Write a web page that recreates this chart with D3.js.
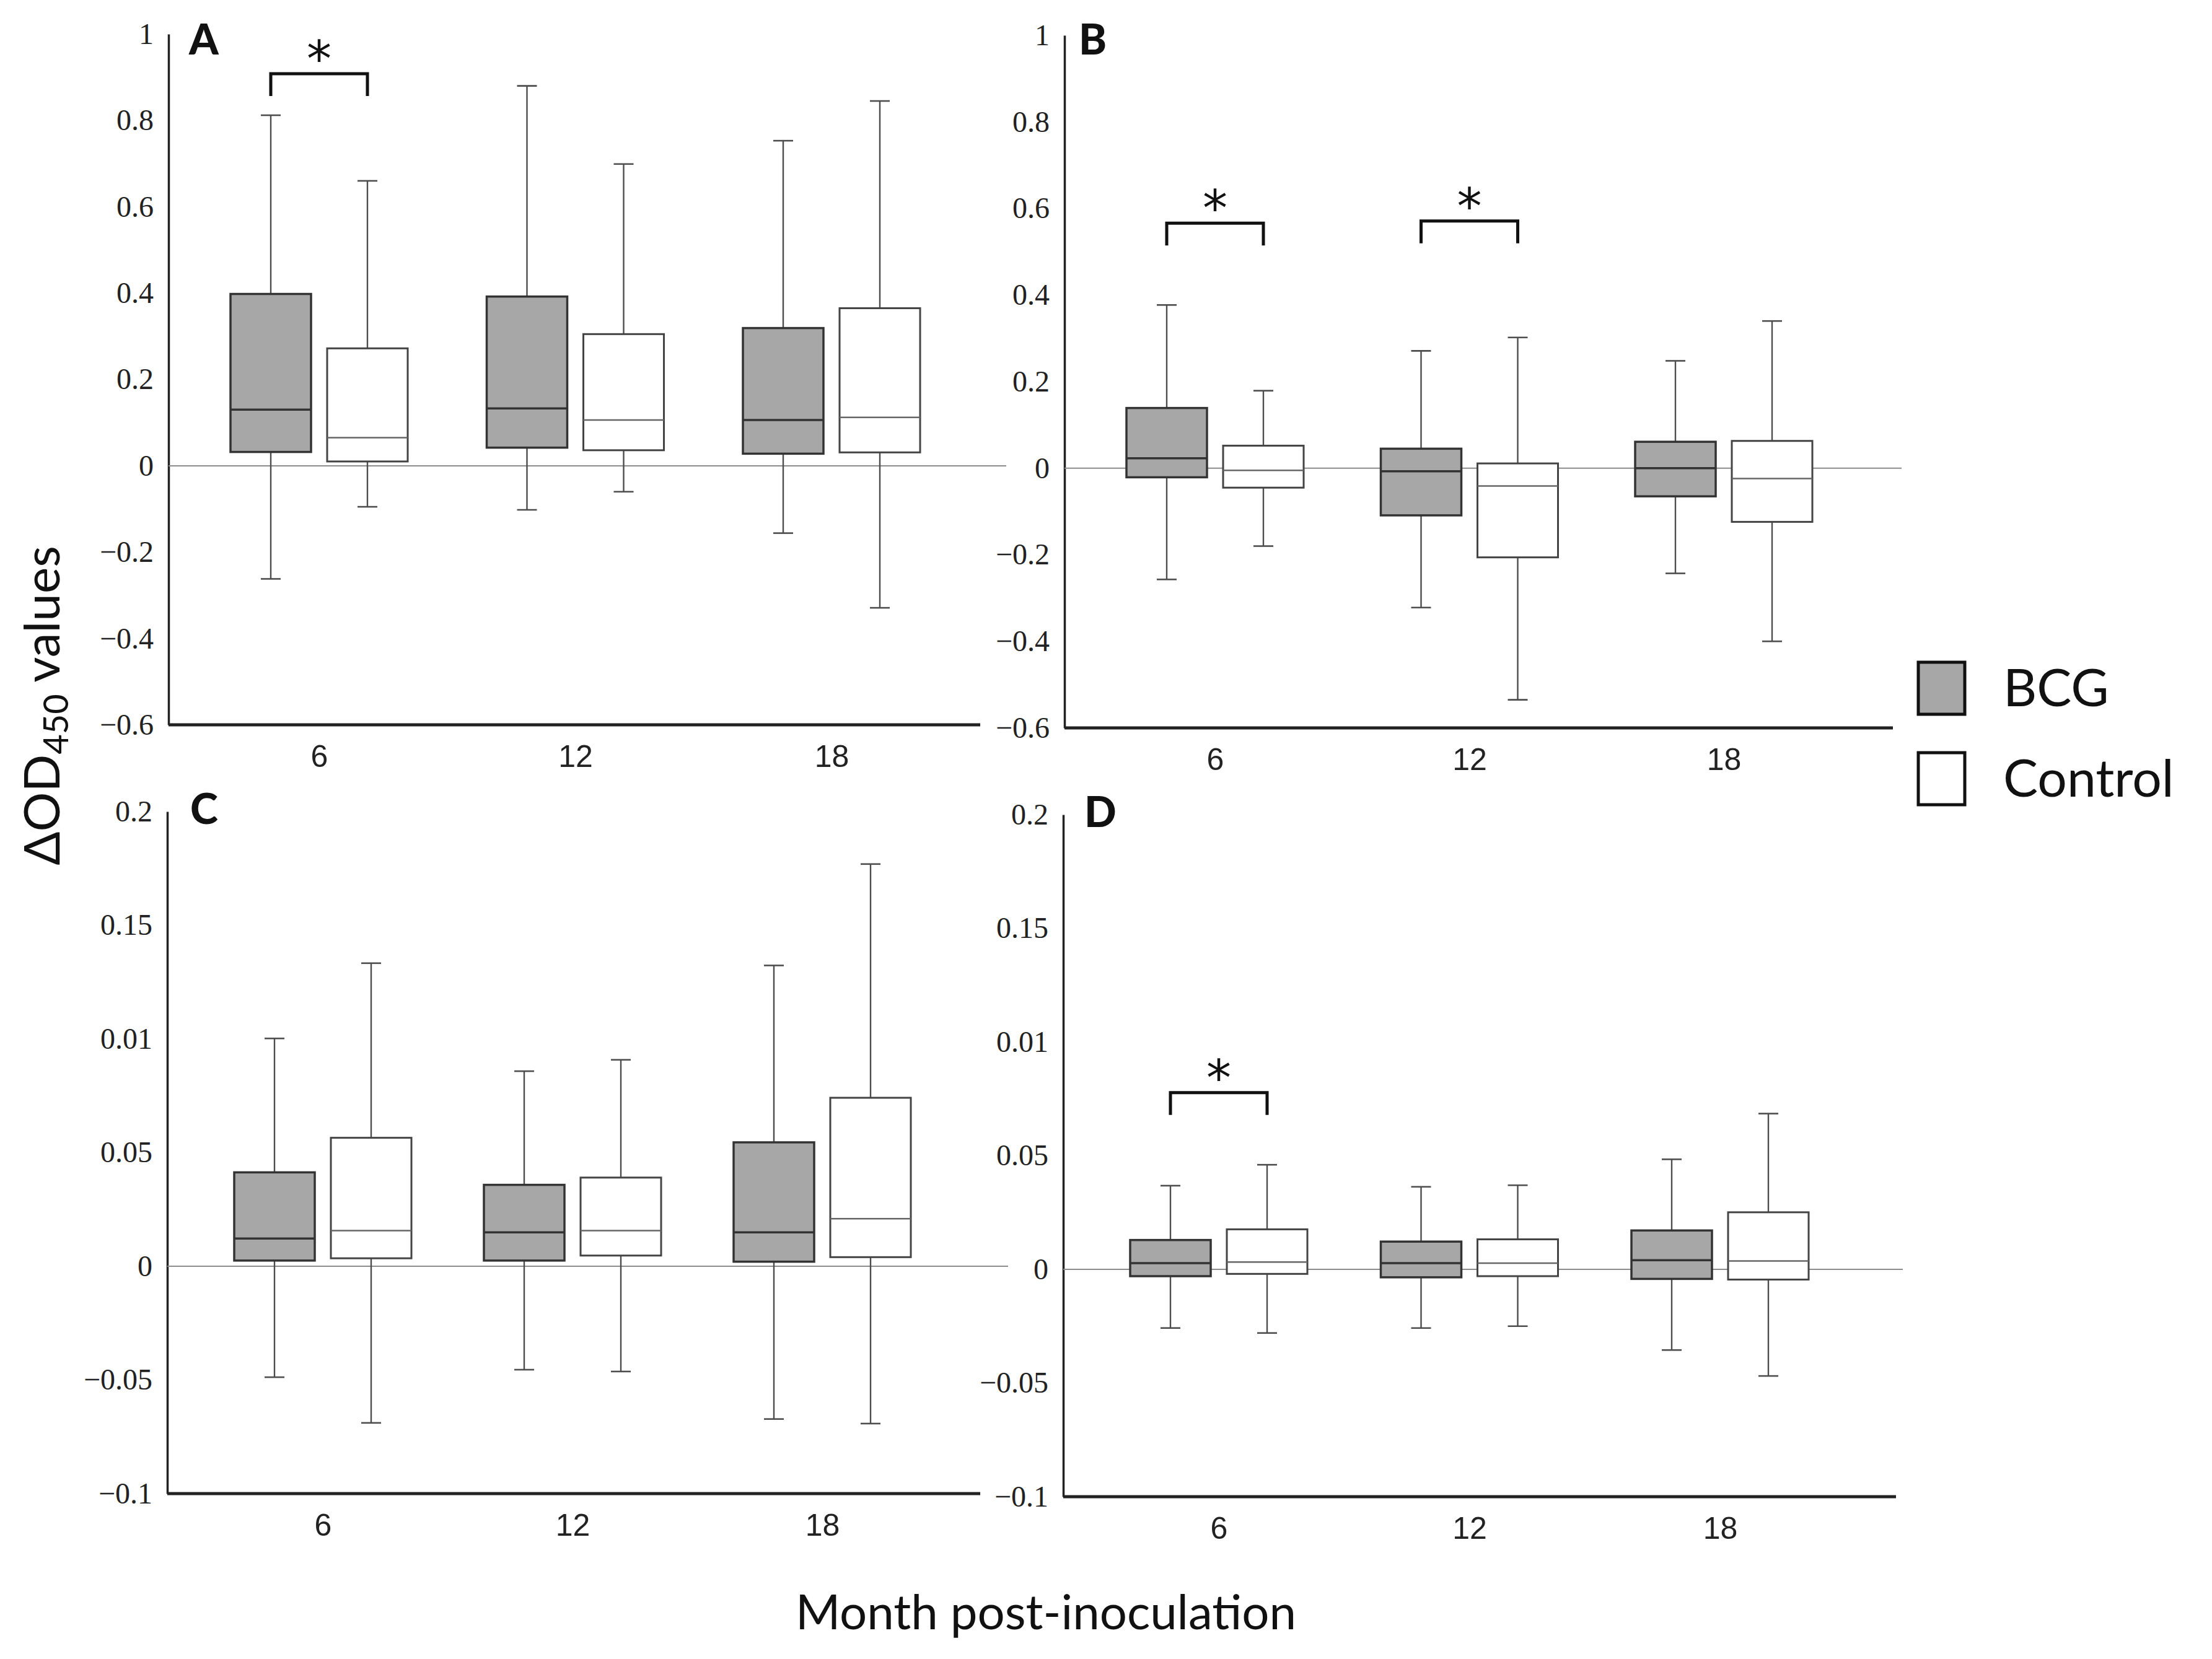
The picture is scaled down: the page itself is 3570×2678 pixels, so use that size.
<!DOCTYPE html>
<html>
<head>
<meta charset="utf-8">
<script src="https://cdn.jsdelivr.net/npm/d3@7"></script>
<style>
    body { margin: 0; background: #fff; }
    svg { display: block; }
</style>
</head>
<body>
<div id="chart"></div>
<script>
// month groups and series
var months = ["6", "12", "18"];
var groups = ["BCG", "Control"];

// box stats per month: [whisker low, Q1, median, Q3, whisker high]
var boxA_BCG = [[-0.262, 0.032, 0.130, 0.398, 0.812], [-0.102, 0.042, 0.133, 0.392, 0.880], [-0.156, 0.028, 0.106, 0.319, 0.753]];
var boxA_Control = [[-0.095, 0.010, 0.065, 0.272, 0.660], [-0.060, 0.036, 0.106, 0.305, 0.699], [-0.329, 0.031, 0.112, 0.365, 0.845]];
var boxB_BCG = [[-0.257, -0.021, 0.023, 0.139, 0.377], [-0.322, -0.109, -0.007, 0.045, 0.271], [-0.243, -0.065, 0.000, 0.061, 0.248]];
var boxB_Control = [[-0.180, -0.045, -0.005, 0.052, 0.179], [-0.535, -0.206, -0.041, 0.011, 0.302], [-0.400, -0.124, -0.024, 0.063, 0.340]];
var boxC_BCG = [[-0.0488, 0.0025, 0.0122, 0.0413, 0.1002], [-0.0455, 0.0025, 0.0149, 0.0358, 0.0858], [-0.0672, 0.0020, 0.0149, 0.0545, 0.1323]];
var boxC_Control = [[-0.0689, 0.0035, 0.0157, 0.0565, 0.1333], [-0.0463, 0.0047, 0.0157, 0.0390, 0.0908], [-0.0692, 0.0040, 0.0209, 0.0741, 0.1769]];
var boxD_BCG = [[-0.0258, -0.0030, 0.0027, 0.0129, 0.0368], [-0.0258, -0.0035, 0.0027, 0.0122, 0.0363], [-0.0355, -0.0042, 0.0040, 0.0171, 0.0484]];
var boxD_Control = [[-0.0280, -0.0020, 0.0032, 0.0176, 0.0460], [-0.0250, -0.0030, 0.0027, 0.0132, 0.0370], [-0.0469, -0.0045, 0.0037, 0.0251, 0.0685]];

// y ticks (labels as printed in the figure)
var ticksAB = [-0.6, -0.4, -0.2, 0, 0.2, 0.4, 0.6, 0.8, 1];
var tickLabelsAB = ["\u22120.6", "\u22120.4", "\u22120.2", "0", "0.2", "0.4", "0.6", "0.8", "1"];
var ticksCD = [-0.1, -0.05, 0, 0.05, 0.1, 0.15, 0.2];
var tickLabelsCD = ["\u22120.1", "\u22120.05", "0", "0.05", "0.01", "0.15", "0.2"];

// significance brackets: month and height
var sigA = [{ month: "6", y: 0.908 }];
var sigB = [{ month: "6", y: 0.566 }, { month: "12", y: 0.571 }];
var sigC = [];
var sigD = [{ month: "6", y: 0.0777 }];

var W = 3570, H = 2678;
var svg = d3.select("#chart").append("svg").attr("width", W).attr("height", H);

var panels = [
    { name: "A", bcg: boxA_BCG, ctl: boxA_Control, sig: sigA, dom: [-0.6, 1], ticks: ticksAB, labels: tickLabelsAB,
      x0: 272, x1: 1582, zeroEnd: 1624, c: [515, 1342], yr: [1170, 55], lx: 305, ly: 88 },
    { name: "B", bcg: boxB_BCG, ctl: boxB_Control, sig: sigB, dom: [-0.6, 1], ticks: ticksAB, labels: tickLabelsAB,
      x0: 1718, x1: 3055, zeroEnd: 3069, c: [1961, 2782], yr: [1175, 57], lx: 1741, ly: 88 },
    { name: "C", bcg: boxC_BCG, ctl: boxC_Control, sig: sigC, dom: [-0.1, 0.2], ticks: ticksCD, labels: tickLabelsCD,
      x0: 270, x1: 1582, zeroEnd: 1627, c: [521, 1327], yr: [2411, 1310], lx: 307, ly: 1330 },
    { name: "D", bcg: boxD_BCG, ctl: boxD_Control, sig: sigD, dom: [-0.1, 0.2], ticks: ticksCD, labels: tickLabelsCD,
      x0: 1716, x1: 3060, zeroEnd: 3071, c: [1967, 2776], yr: [2416, 1315], lx: 1750, ly: 1335 }
];

var boxW = 130, off = 78, capW = 32;

panels.forEach(function(p) {
    var g = svg.append("g");
    var x = d3.scalePoint().domain(months).range(p.c);
    var y = d3.scaleLinear().domain(p.dom).range(p.yr);

    // y axis without tick marks
    var yAxis = g.append("g")
        .attr("transform", "translate(" + p.x0 + ",0)")
        .attr("font-family", "'Liberation Serif', 'DejaVu Serif', serif")
        .call(d3.axisLeft(y).tickValues(p.ticks).tickSize(0).tickPadding(24)
            .tickFormat(function(d, i) { return p.labels[i]; }));
    yAxis.attr("font-family", "'Liberation Serif', 'DejaVu Serif', serif");
    yAxis.select(".domain").attr("stroke", "#222").attr("stroke-width", 3.5);
    yAxis.selectAll("text").style("font-family", "'Liberation Serif', 'DejaVu Serif', serif")
        .attr("font-size", 48).attr("fill", "#222");

    // x axis line and month labels
    g.append("line").attr("x1", p.x0).attr("x2", p.x1).attr("y1", y(p.dom[0])).attr("y2", y(p.dom[0]))
        .attr("stroke", "#222").attr("stroke-width", 5);
    var xAxis = g.append("g")
        .attr("transform", "translate(0," + y(p.dom[0]) + ")")
        .call(d3.axisBottom(x).tickSize(0).tickPadding(32));
    xAxis.select(".domain").remove();
    xAxis.selectAll("text")
        .style("font-family", "'Liberation Sans Narrow', 'Liberation Sans', sans-serif")
        .style("font-stretch", "condensed")
        .attr("font-size", 50).attr("fill", "#222");

    // zero reference line
    g.append("line").attr("x1", p.x0).attr("x2", p.zeroEnd).attr("y1", y(0)).attr("y2", y(0))
        .attr("stroke", "#8c8c8c").attr("stroke-width", 2);

    [["BCG", p.bcg, -off], ["Control", p.ctl, off]].forEach(function(s) {
        var isBcg = s[0] == "BCG";
        var bx = g.selectAll(".box-" + s[0]).data(s[1]).enter().append("g");
        var cx = function(d, i) { return x(months[i]) + s[2]; };

        // whiskers
        bx.append("line").attr("x1", cx).attr("x2", cx)
            .attr("y1", function(d) { return y(d[0]); }).attr("y2", function(d) { return y(d[1]); })
            .attr("stroke", "#4d4d4d").attr("stroke-width", 2.4);
        bx.append("line").attr("x1", cx).attr("x2", cx)
            .attr("y1", function(d) { return y(d[3]); }).attr("y2", function(d) { return y(d[4]); })
            .attr("stroke", "#4d4d4d").attr("stroke-width", 2.4);
        [0, 4].forEach(function(k) {
            bx.append("line")
                .attr("x1", function(d, i) { return cx(d, i) - capW / 2; })
                .attr("x2", function(d, i) { return cx(d, i) + capW / 2; })
                .attr("y1", function(d) { return y(d[k]); }).attr("y2", function(d) { return y(d[k]); })
                .attr("stroke", "#4d4d4d").attr("stroke-width", 2.6);
        });

        // box
        bx.append("rect")
            .attr("x", function(d, i) { return cx(d, i) - boxW / 2; })
            .attr("y", function(d) { return y(d[3]); })
            .attr("width", boxW)
            .attr("height", function(d) { return y(d[1]) - y(d[3]); })
            .attr("fill", isBcg ? "#a7a7a7" : "#fff")
            .attr("stroke", isBcg ? "#333" : "#444")
            .attr("stroke-width", isBcg ? 3.5 : 3);

        // median
        bx.append("line")
            .attr("x1", function(d, i) { return cx(d, i) - boxW / 2; })
            .attr("x2", function(d, i) { return cx(d, i) + boxW / 2; })
            .attr("y1", function(d) { return y(d[2]); }).attr("y2", function(d) { return y(d[2]); })
            .attr("stroke", isBcg ? "#333" : "#666").attr("stroke-width", isBcg ? 3.5 : 2.5);
    });

    // significance brackets
    p.sig.forEach(function(s) {
        var xa = x(s.month) - off, xb = x(s.month) + off, yy = y(s.y);
        g.append("path")
            .attr("d", "M" + xa + "," + (yy + 36) + "V" + yy + "H" + xb + "V" + (yy + 36))
            .attr("fill", "none").attr("stroke", "#111").attr("stroke-width", 5);
        g.append("text").attr("x", (xa + xb) / 2).attr("y", yy + 4)
            .attr("text-anchor", "middle").attr("font-family", "'DejaVu Sans', sans-serif")
            .attr("font-size", 80).attr("fill", "#111").text("*");
    });

    // panel letter
    g.append("text").attr("x", p.lx).attr("y", p.ly)
        .attr("font-family", "Lato, 'Open Sans', sans-serif").attr("font-weight", 900)
        .attr("font-size", 68).attr("fill", "#111").text(p.name);
});

// legend
var legend = svg.selectAll(".legend").data(groups).enter().append("g")
    .attr("class", "legend")
    .attr("transform", function(d, i) { return "translate(3096," + (1069 + i * 146) + ")"; });
legend.append("rect").attr("width", 75).attr("height", 84)
    .attr("fill", function(d) { return d == "BCG" ? "#a7a7a7" : "#fff"; })
    .attr("stroke", "#111").attr("stroke-width", 5);
legend.append("text").attr("x", 137).attr("y", 71)
    .attr("font-family", "Lato, 'Open Sans', sans-serif").attr("font-size", 84).attr("fill", "#111")
    .text(function(d) { return d; });

// axis titles
var yTitle = svg.append("text")
    .attr("transform", "translate(96,1139) rotate(-90)")
    .attr("text-anchor", "middle")
    .attr("font-family", "Lato, 'Open Sans', sans-serif").attr("font-size", 80).attr("fill", "#111");
yTitle.append("tspan").text("\u0394OD");
yTitle.append("tspan").attr("font-size", 56).attr("dy", 14).text("450");
yTitle.append("tspan").attr("dy", -14).text(" values");

svg.append("text").attr("x", 1688).attr("y", 2630)
    .attr("text-anchor", "middle")
    .attr("font-family", "Lato, 'Open Sans', sans-serif").attr("font-size", 78).attr("fill", "#111")
    .text("Month post-inoculation");
</script>
</body>
</html>
